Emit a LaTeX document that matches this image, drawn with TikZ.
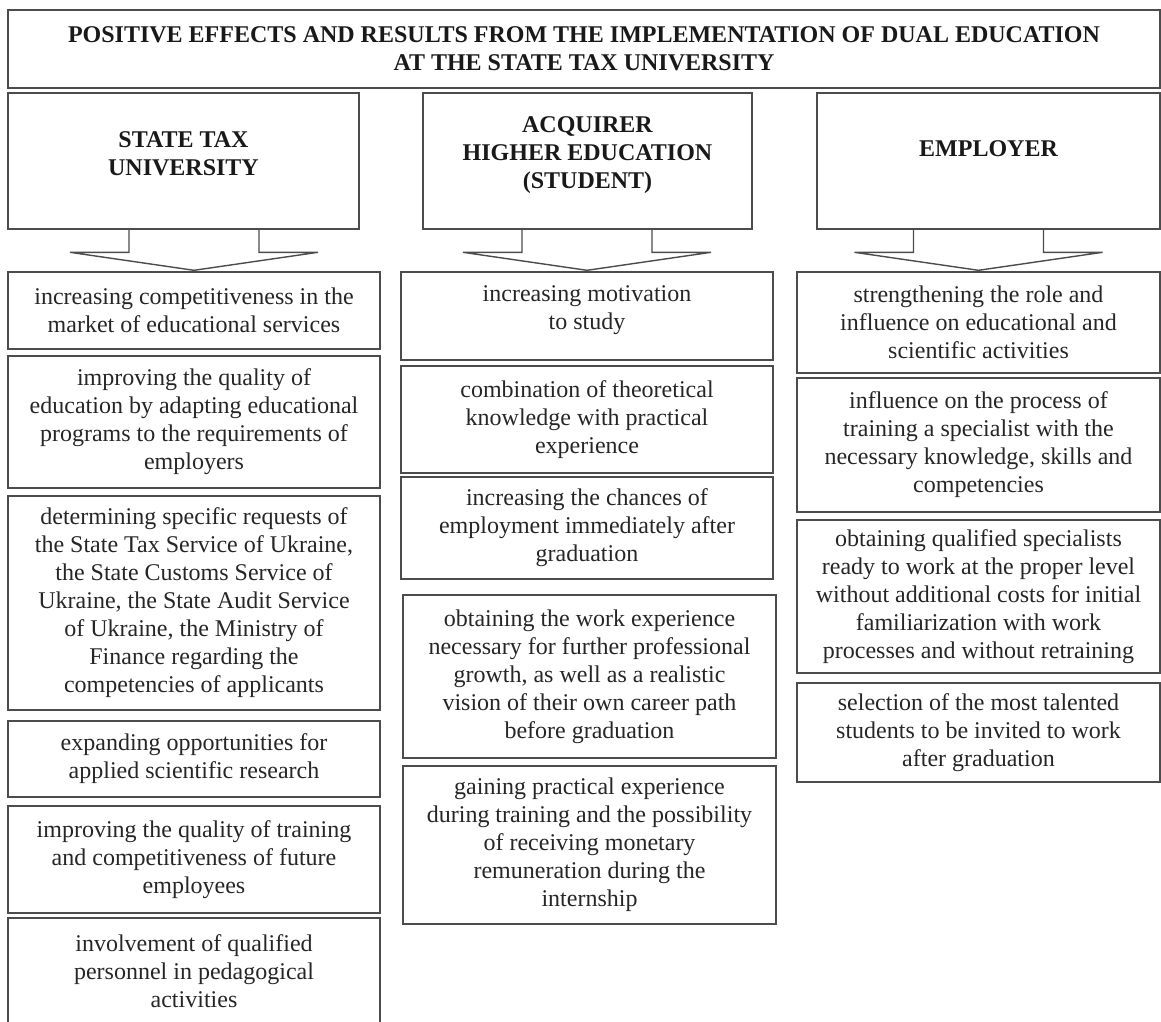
\documentclass[tikz,border=0pt]{standalone}
\usepackage{fontspec}
\setmainfont{Liberation Serif}
\usetikzlibrary{calc}
\begin{document}
\begin{tikzpicture}[x=1pt,y=-1pt,
  every node/.style={font=\fontsize{24}{28}\selectfont, align=center, inner sep=0pt, text=black!85},
  box/.style={draw=black!70, line width=1.4pt},
  head/.style={font=\fontsize{24}{28}\selectfont\bfseries, text=black!90},
  arrowline/.style={draw=black!70, line width=1.4pt, line join=miter}]
\useasboundingbox (0,0) rectangle (1161,1021);

% title
\node[box, minimum width=1152, minimum height=78, head] (title) at (584,49)
  {POSITIVE EFFECTS AND RESULTS FROM THE IMPLEMENTATION OF DUAL EDUCATION\\AT THE STATE TAX UNIVERSITY};

% headers
\node[box, minimum width=351, minimum height=136] (hl) at (183.5,161) {};
\node[head] (hlt) at (183.5,153.5) {STATE TAX\\UNIVERSITY};
\node[box, minimum width=329, minimum height=136] (hm) at (587.5,161) {};
\node[head] (hmt) at (587.5,155) {ACQUIRER\\HIGHER EDUCATION\\(STUDENT)};
\node[box, minimum width=343, minimum height=136] (hr) at (988.5,161) {};
\node[head] (hrt) at (988.5,149) {EMPLOYER};

% left column
\node[box, minimum width=372, minimum height=77] (l1) at (194,310.5)
  {increasing competitiveness in the\\market of educational services};
\node[box, minimum width=372, minimum height=132] (l2) at (194,422)
  {improving the quality of\\education by adapting educational\\programs to the requirements of\\employers};
\node[box, minimum width=372, minimum height=214] (l3) at (194,603)
  {determining specific requests of\\the State Tax Service of Ukraine,\\the State Customs Service of\\Ukraine, the State Audit Service\\of Ukraine, the Ministry of\\Finance regarding the\\competencies of applicants};
\node[box, minimum width=372, minimum height=76] (l4) at (194,759)
  {expanding opportunities for\\applied scientific research};
\node[box, minimum width=372, minimum height=107] (l5) at (194,859.5)
  {improving the quality of training\\and competitiveness of future\\employees};
\node[box, minimum width=372, minimum height=120] (l6) at (194,978) {};
\node (l6t) at (194,971) {involvement of qualified\\personnel in pedagogical\\activities};

% middle column
\node[box, minimum width=372, minimum height=88] (m1) at (587,316) {};
\node (m1t) at (587,310) {increasing motivation\\to study};
\node[box, minimum width=372, minimum height=107] (m2) at (587,419.5)
  {combination of theoretical\\knowledge with practical\\experience};
\node[box, minimum width=372, minimum height=102] (m3) at (587,528)
  {increasing the chances of\\employment immediately after\\graduation};
\node[box, minimum width=373, minimum height=163] (m4) at (589.5,676.5)
  {obtaining the work experience\\necessary for further professional\\growth, as well as a realistic\\vision of their own career path\\before graduation};
\node[box, minimum width=373, minimum height=158] (m5) at (589.5,845)
  {gaining practical experience\\during training and the possibility\\of receiving monetary\\remuneration during the\\internship};

% right column
\node[box, minimum width=363, minimum height=101] (r1) at (978.5,322.5)
  {strengthening the role and\\influence on educational and\\scientific activities};
\node[box, minimum width=363, minimum height=134] (r2) at (978.5,445)
  {influence on the process of\\training a specialist with the\\necessary knowledge, skills and\\competencies};
\node[box, minimum width=363, minimum height=153] (r3) at (978.5,596.5)
  {obtaining qualified specialists\\ready to work at the proper level\\without additional costs for initial\\familiarization with work\\processes and without retraining};
\node[box, minimum width=363, minimum height=99] (r4) at (978.5,732.5)
  {selection of the most talented\\students to be invited to work\\after graduation};

% block arrows from headers to first boxes
\foreach \t in {l1,m1,r1}{
  \draw[arrowline] ($(\t.north)+(-65,-43)$) -- ++(0,24) -- ++(-59,0)
    -- ($(\t.north)+(0,-1)$) -- ($(\t.north)+(124,-19)$) -- ++(-59,0) -- ++(0,-24);
}
\end{tikzpicture}
\end{document}
